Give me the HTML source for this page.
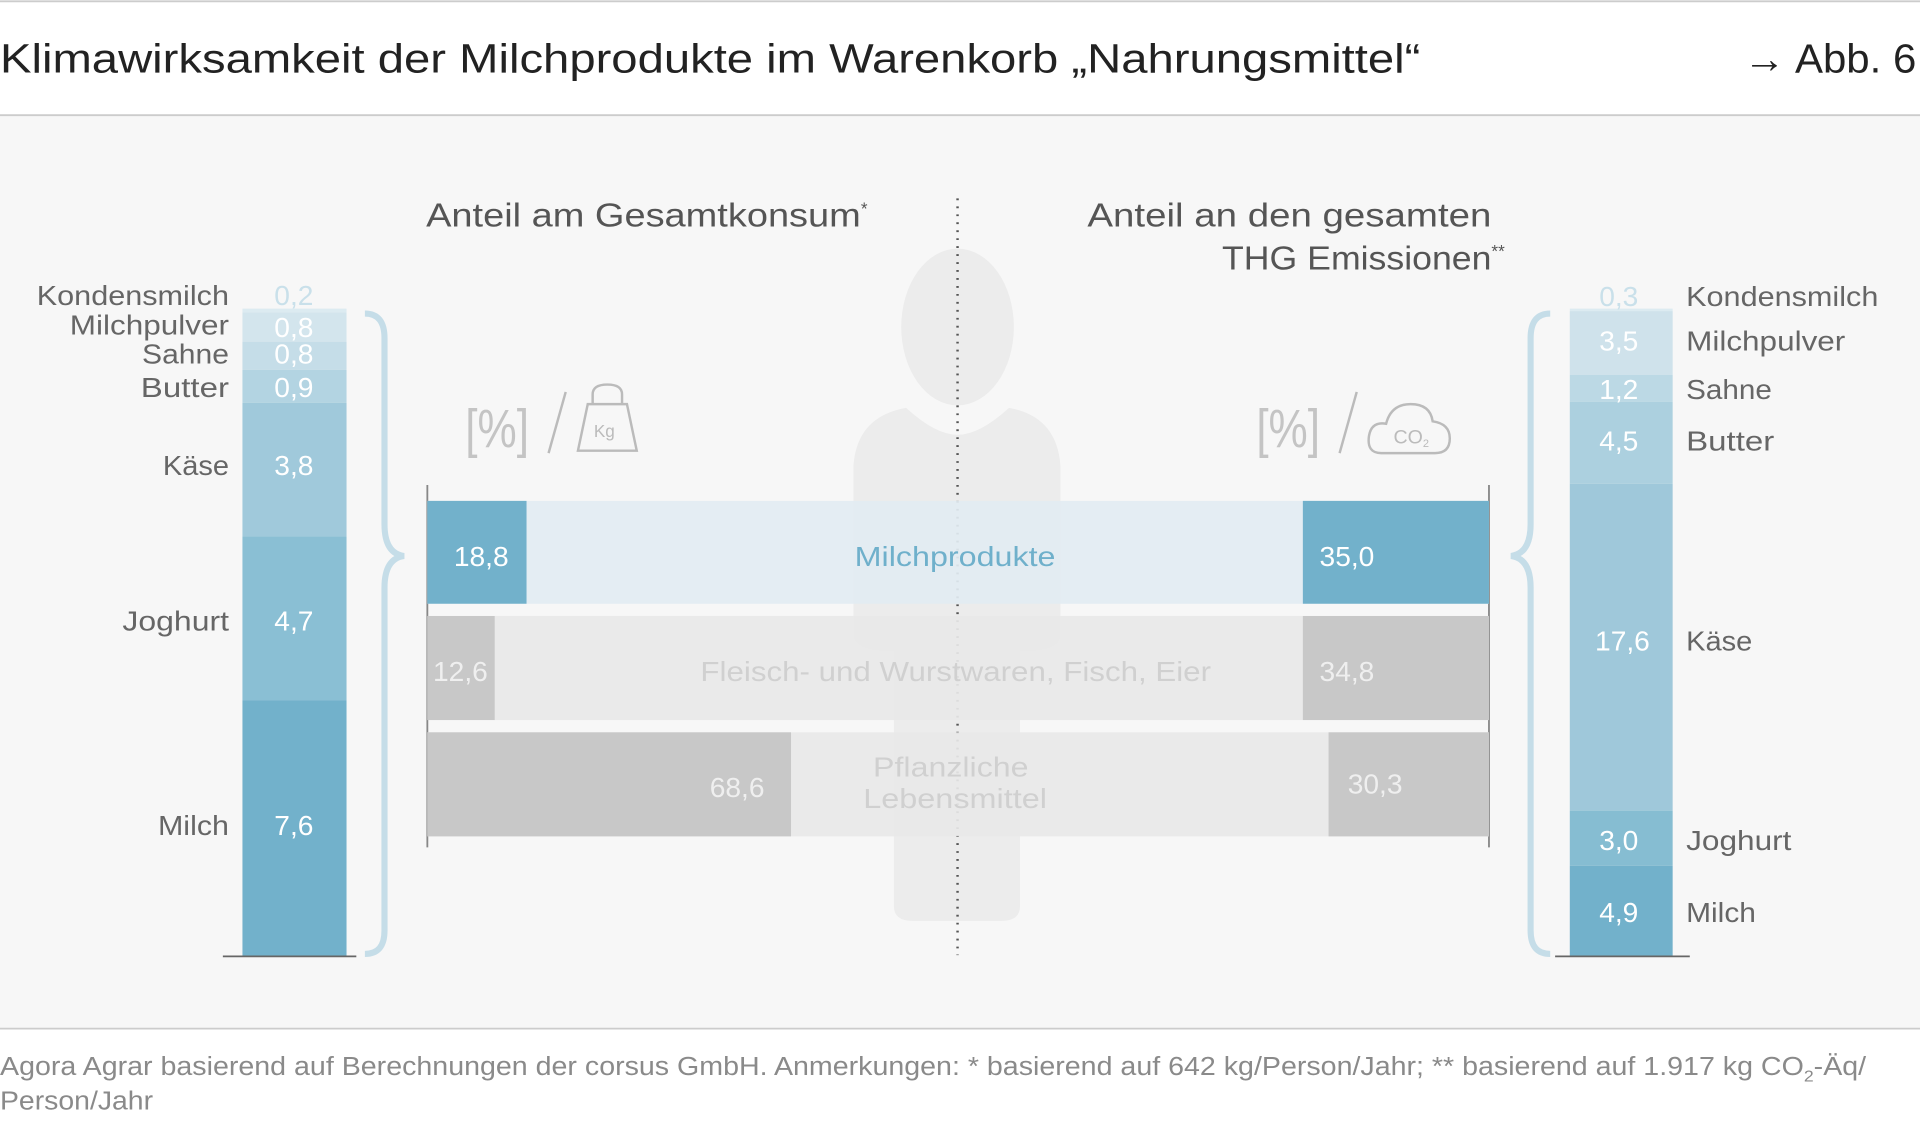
<!DOCTYPE html>
<html><head><meta charset="utf-8"><style>
html,body{margin:0;padding:0;background:#fff;}
svg{display:block;}
text{font-family:"Liberation Sans","DejaVu Sans",sans-serif;}
</style></head><body>
<svg width="1920" height="1134" viewBox="0 0 1568 926" xmlns="http://www.w3.org/2000/svg">
<rect x="0" y="0" width="1568" height="926" fill="#fff"/>
<line x1="0" y1="1" x2="1568" y2="1" stroke="#ccc" stroke-width="1.5"/>
<text x="0" y="59" font-size="33" fill="#222" textLength="1160" lengthAdjust="spacingAndGlyphs">Klimawirksamkeit der Milchprodukte im Warenkorb „Nahrungsmittel“</text>
<text x="1424" y="59" font-size="33" fill="#222" textLength="141" lengthAdjust="spacingAndGlyphs">→ Abb. 6</text>
<rect x="0" y="94" width="1568" height="746" fill="#f7f7f7"/>
<line x1="0" y1="94" x2="1568" y2="94" stroke="#ccc" stroke-width="1.5"/>
<line x1="0" y1="840" x2="1568" y2="840" stroke="#ccc" stroke-width="1.5"/>
<text x="0" y="878" font-size="21" fill="#8a8a8a" textLength="1524" lengthAdjust="spacingAndGlyphs">Agora Agrar basierend auf Berechnungen der corsus GmbH. Anmerkungen: * basierend auf 642 kg/Person/Jahr; ** basierend auf 1.917 kg CO<tspan font-size="13" dy="5">2</tspan><tspan dy="-5">-Äq/</tspan></text>
<text x="0" y="906" font-size="21" fill="#8a8a8a" textLength="125" lengthAdjust="spacingAndGlyphs">Person/Jahr</text>

<g fill="#ececec">
<ellipse cx="782" cy="267" rx="46" ry="64"/>
<path d="M740 333 Q700 340 697 380 L697 520 Q700 532 730 532 L730 740 Q730 752 745 752 L818 752 Q833 752 833 740 L833 532 Q864 532 866 520 L866 380 Q863 340 824 333 Q800 355 782 355 Q764 355 740 333 Z"/>
</g>
<line x1="782" y1="162" x2="782" y2="780" stroke="#555" stroke-width="2" stroke-dasharray="1.5 5"/>

<text x="348" y="185" font-size="27" fill="#555"><tspan textLength="355" lengthAdjust="spacingAndGlyphs">Anteil am Gesamtkonsum</tspan><tspan font-size="14" dy="-10">*</tspan></text>
<text x="888" y="185" font-size="27" fill="#555" textLength="330" lengthAdjust="spacingAndGlyphs">Anteil an den gesamten</text>
<text x="998" y="220" font-size="27" fill="#555"><tspan textLength="220" lengthAdjust="spacingAndGlyphs">THG Emissionen</tspan><tspan font-size="14" dy="-10">**</tspan></text>

<g fill="none" stroke="#bbb" stroke-width="2">
<text x="380" y="365" font-size="44" fill="#c4c4c4" stroke="none" textLength="52" lengthAdjust="spacingAndGlyphs">[%]</text>
<line x1="462" y1="320" x2="448" y2="370"/>
<path d="M484 330 L484 322 Q484 314 496 314 Q508 314 508 322 L508 330 M480 330 L512 330 L520 368 L472 368 Z"/>
<text x="485" y="357" font-size="14" fill="#bbb" stroke="none">Kg</text>
<text x="1026" y="365" font-size="44" fill="#c4c4c4" stroke="none" textLength="52" lengthAdjust="spacingAndGlyphs">[%]</text>
<line x1="1108" y1="320" x2="1094" y2="370"/>
<path d="M1128 370 Q1116 370 1118 356 Q1120 344 1132 346 Q1136 330 1152 330 Q1168 330 1170 344 Q1184 346 1184 358 Q1184 370 1172 370 Z"/>
<text x="1138" y="362" font-size="16" fill="#bbb" stroke="none">CO<tspan font-size="9" dy="3">2</tspan></text>
</g>

<line x1="349" y1="396" x2="349" y2="692" stroke="#888" stroke-width="1.5"/>
<line x1="1216" y1="396" x2="1216" y2="692" stroke="#888" stroke-width="1.5"/>
<rect x="349" y="409" width="867" height="84" fill="#e2ecf2" opacity="0.92"/>
<rect x="349" y="409" width="81" height="84" fill="#72b1cb"/>
<rect x="1064" y="409" width="152" height="84" fill="#72b1cb"/>
<text x="393" y="462" font-size="23" fill="#fff" text-anchor="middle">18,8</text>
<text x="1100" y="462" font-size="23" fill="#fff" text-anchor="middle">35,0</text>
<text x="698" y="462" font-size="23" fill="#6fb0cb" textLength="164" lengthAdjust="spacingAndGlyphs">Milchprodukte</text>

<rect x="349" y="503" width="867" height="85" fill="#e8e8e8" opacity="0.92"/>
<rect x="349" y="503" width="55" height="85" fill="#c8c8c8"/>
<rect x="1064" y="503" width="152" height="85" fill="#c8c8c8"/>
<text x="376" y="556" font-size="23" fill="#efefef" text-anchor="middle">12,6</text>
<text x="1100" y="556" font-size="23" fill="#efefef" text-anchor="middle">34,8</text>
<text x="572" y="556" font-size="23" fill="#d0d0d0" textLength="417" lengthAdjust="spacingAndGlyphs">Fleisch- und Wurstwaren, Fisch, Eier</text>

<rect x="349" y="598" width="867" height="85" fill="#e8e8e8" opacity="0.92"/>
<rect x="349" y="598" width="297" height="85" fill="#c8c8c8"/>
<rect x="1085" y="598" width="131" height="85" fill="#c8c8c8"/>
<text x="602" y="651" font-size="23" fill="#efefef" text-anchor="middle">68,6</text>
<text x="1123" y="648" font-size="23" fill="#efefef" text-anchor="middle">30,3</text>
<text x="713" y="634" font-size="23" fill="#d0d0d0" textLength="127" lengthAdjust="spacingAndGlyphs">Pflanzliche</text>
<text x="705" y="660" font-size="23" fill="#d0d0d0" textLength="150" lengthAdjust="spacingAndGlyphs">Lebensmittel</text>

<rect x="198" y="252" width="85" height="3" fill="#dcebf1"/>
<rect x="198" y="255" width="85" height="24" fill="#d3e5ed"/>
<rect x="198" y="279" width="85" height="23" fill="#c5dde8"/>
<rect x="198" y="302" width="85" height="27" fill="#b3d4e2"/>
<rect x="198" y="329" width="85" height="109" fill="#a0c9db"/>
<rect x="198" y="438" width="85" height="134" fill="#8abfd4"/>
<rect x="198" y="572" width="85" height="209" fill="#72b1cb"/>
<line x1="182" y1="781" x2="291" y2="781" stroke="#666" stroke-width="1.5"/>
<g font-size="23" fill="#666">
<text x="30" y="249" textLength="157" lengthAdjust="spacingAndGlyphs">Kondensmilch</text>
<text x="57" y="273" textLength="130" lengthAdjust="spacingAndGlyphs">Milchpulver</text>
<text x="116" y="297" textLength="71" lengthAdjust="spacingAndGlyphs">Sahne</text>
<text x="115" y="324" textLength="72" lengthAdjust="spacingAndGlyphs">Butter</text>
<text x="133" y="388" textLength="54" lengthAdjust="spacingAndGlyphs">Käse</text>
<text x="100" y="515" textLength="87" lengthAdjust="spacingAndGlyphs">Joghurt</text>
<text x="129" y="682" textLength="58" lengthAdjust="spacingAndGlyphs">Milch</text>
</g>
<g font-size="23" fill="#fff" text-anchor="middle">
<text x="240" y="249" fill="#c9e0ea">0,2</text>
<text x="240" y="275">0,8</text>
<text x="240" y="297">0,8</text>
<text x="240" y="324">0,9</text>
<text x="240" y="388">3,8</text>
<text x="240" y="515">4,7</text>
<text x="240" y="682">7,6</text>
</g>
<path d="M298 256 Q314 256 314 276 L314 428 Q314 452 330 454 Q314 456 314 480 L314 760 Q314 779 298 779" fill="none" stroke="#c5dde8" stroke-width="5"/>

<rect x="1282" y="252" width="84" height="2" fill="#dcebf1"/>
<rect x="1282" y="254" width="84" height="52" fill="#cfe2eb"/>
<rect x="1282" y="306" width="84" height="22" fill="#bcd9e5"/>
<rect x="1282" y="328" width="84" height="67" fill="#acd0df"/>
<rect x="1282" y="395" width="84" height="267" fill="#9fc8da"/>
<rect x="1282" y="662" width="84" height="45" fill="#86bdd2"/>
<rect x="1282" y="707" width="84" height="74" fill="#72b1cb"/>
<line x1="1270" y1="781" x2="1380" y2="781" stroke="#666" stroke-width="1.5"/>
<g font-size="23" fill="#666">
<text x="1377" y="250" textLength="157" lengthAdjust="spacingAndGlyphs">Kondensmilch</text>
<text x="1377" y="286" textLength="130" lengthAdjust="spacingAndGlyphs">Milchpulver</text>
<text x="1377" y="326" textLength="70" lengthAdjust="spacingAndGlyphs">Sahne</text>
<text x="1377" y="368" textLength="72" lengthAdjust="spacingAndGlyphs">Butter</text>
<text x="1377" y="531" textLength="54" lengthAdjust="spacingAndGlyphs">Käse</text>
<text x="1377" y="694" textLength="86" lengthAdjust="spacingAndGlyphs">Joghurt</text>
<text x="1377" y="753" textLength="57" lengthAdjust="spacingAndGlyphs">Milch</text>
</g>
<g font-size="23" fill="#fff" text-anchor="middle">
<text x="1322" y="250" fill="#c9e0ea">0,3</text>
<text x="1322" y="286">3,5</text>
<text x="1322" y="326">1,2</text>
<text x="1322" y="368">4,5</text>
<text x="1325" y="531">17,6</text>
<text x="1322" y="694">3,0</text>
<text x="1322" y="753">4,9</text>
</g>
<path d="M1266 256 Q1250 256 1250 276 L1250 428 Q1250 452 1234 454 Q1250 456 1250 480 L1250 760 Q1250 779 1266 779" fill="none" stroke="#c5dde8" stroke-width="5"/>
</svg>
</body></html>
